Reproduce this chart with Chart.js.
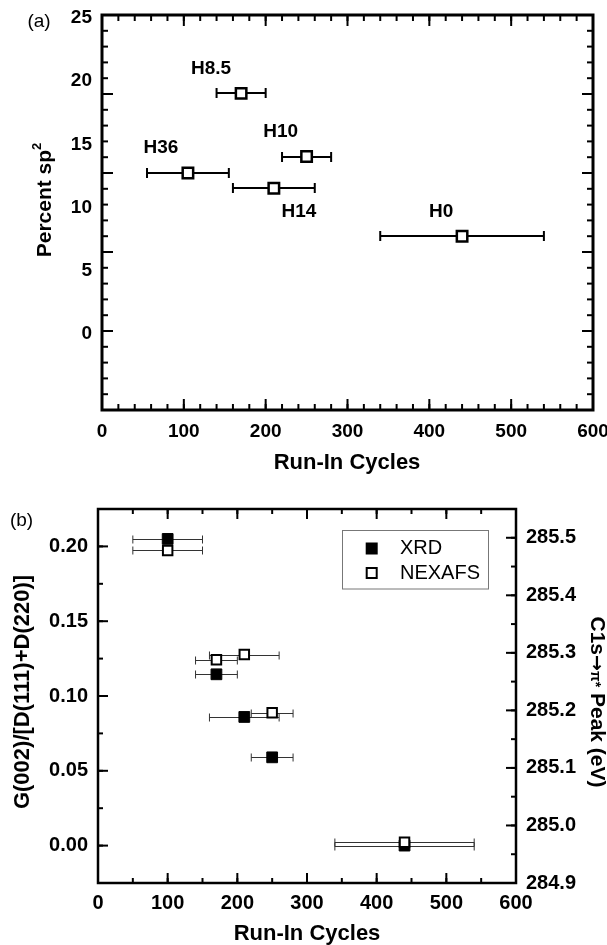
<!DOCTYPE html>
<html>
<head>
<meta charset="utf-8">
<script src="https://cdn.jsdelivr.net/npm/chart.js@4.4.1/dist/chart.umd.min.js"></script>
<style>
    html, body { margin: 0; padding: 0; background: #fff; }
    #wrapA { position: absolute; left: 0; top: 0; }
    #wrapB { position: absolute; left: 0; top: 480px; }
</style>
</head>
<body>
<div id="wrapA"><canvas id="chartA" width="607" height="480"></canvas></div>
<div id="wrapB"><canvas id="chartB" width="607" height="465"></canvas></div>
<script>
// panel (a): percent sp2 vs run-in cycles
const xA = [105, 170, 210, 250, 440];
const yA = [12.5, 18.8, 11.3, 13.8, 7.5];
const errA = [50, 30, 50, 30, 100];
const namesA = ['H36', 'H8.5', 'H14', 'H10', 'H0'];

// panel (b): XRD ratio (left axis) and NEXAFS peak (right axis)
const xB = [100, 170, 210, 250, 440];
const xrdB = [0.205, 0.1145, 0.086, 0.059, 0.000];
const nexafsB = [285.478, 285.288, 285.297, 285.196, 284.971];
const errB = [50, 30, 50, 30, 100];

// tick labels
const xLabels = [0, 100, 200, 300, 400, 500, 600];
const yLabelsA = [0, 5, 10, 15, 20, 25];
const yMajorA = [-6.25, 0, 6.25, 12.5, 18.75, 25];
const yLabelsB = [0, 0.05, 0.10, 0.15, 0.20];
const y2LabelsB = [284.9, 285.0, 285.1, 285.2, 285.3, 285.4, 285.5];

const FONT = '"Liberation Sans", Arial, sans-serif';

// label offsets from their point, in pixels
const nameShift = [[-27, -25], [-30, -25], [25, 24], [-26, -25], [-21, -24]];

function steps(from, to, step) {
    const out = [];
    const n = Math.round((to - from) / step);
    for (let i = 0; i <= n; i++) out.push(+(from + i * step).toFixed(4));
    return out;
}

function partFont(p) {
    return (p.weight || 'bold') + ' ' + p.size + 'px ' + (p.family || FONT);
}

function drawRich(ctx, parts, cx, cy, rot) {
    ctx.save();
    ctx.translate(cx, cy);
    ctx.rotate(rot);
    let w = 0;
    parts.forEach(p => {
        ctx.font = partFont(p);
        p.w = ctx.measureText(p.t).width;
        w += p.w;
    });
    const base = parts[0].size * 0.36;
    let x = -w / 2;
    ctx.fillStyle = '#000';
    ctx.textBaseline = 'alphabetic';
    ctx.textAlign = 'left';
    parts.forEach(p => {
        ctx.font = partFont(p);
        ctx.fillText(p.t, x, base - (p.rise || 0));
        x += p.w;
    });
    ctx.restore();
}

const errorBars = {
    id: 'errorBars',
    beforeDatasetsDraw(chart) {
        const ctx = chart.ctx;
        const xs = chart.scales.x;
        chart.data.datasets.forEach((ds, di) => {
            if (!ds.errX) return;
            const meta = chart.getDatasetMeta(di);
            ctx.save();
            ctx.strokeStyle = ds.errColor;
            ctx.lineWidth = ds.errWidth;
            meta.data.forEach((pt, i) => {
                const v = ds.data[i].x;
                const x0 = xs.getPixelForValue(v - ds.errX[i]);
                const x1 = xs.getPixelForValue(v + ds.errX[i]);
                const y = Math.round(pt.y) + (ds.errWidth % 2 ? 0.5 : 0);
                const c = ds.errCap;
                ctx.beginPath();
                ctx.moveTo(x0, y); ctx.lineTo(x1, y);
                ctx.moveTo(x0, y - c); ctx.lineTo(x0, y + c);
                ctx.moveTo(x1, y - c); ctx.lineTo(x1, y + c);
                ctx.stroke();
            });
            ctx.restore();
        });
    }
};

const frameBox = {
    id: 'frameBox',
    afterDatasetsDraw(chart, args, opts) {
        const {ctx, chartArea: a, scales} = chart;
        ctx.save();
        ctx.strokeStyle = '#000';
        ctx.lineWidth = opts.tickWidth;
        const mark = (side, spec) => {
            const scale = scales[spec.scale];
            const draw = (values, len) => values.forEach(v => {
                const p = scale.getPixelForValue(v);
                ctx.beginPath();
                if (side === 'bottom') { ctx.moveTo(p, a.bottom); ctx.lineTo(p, a.bottom - len); }
                if (side === 'top') { ctx.moveTo(p, a.top); ctx.lineTo(p, a.top + len); }
                if (side === 'left') { ctx.moveTo(a.left, p); ctx.lineTo(a.left + len, p); }
                if (side === 'right') { ctx.moveTo(a.right, p); ctx.lineTo(a.right - len, p); }
                ctx.stroke();
            });
            draw(spec.minor, opts.minor);
            draw(spec.major, opts.major);
        };
        Object.keys(opts.sides).forEach(side => mark(side, opts.sides[side]));
        ctx.lineWidth = opts.frame;
        ctx.strokeRect(a.left, a.top, a.right - a.left, a.bottom - a.top);
        ctx.restore();

        (opts.titles || []).forEach(t => drawRich(ctx, t.parts, t.x, t.y, t.rot || 0));

        if (opts.names) {
            const meta = chart.getDatasetMeta(0);
            ctx.save();
            ctx.fillStyle = '#000';
            ctx.font = 'bold 19px ' + FONT;
            ctx.textAlign = 'center';
            ctx.textBaseline = 'middle';
            meta.data.forEach((pt, i) => {
                ctx.fillText(opts.names[i], pt.x + opts.shifts[i][0], pt.y + opts.shifts[i][1]);
            });
            ctx.restore();
        }

        if (opts.legend) {
            const L = opts.legend;
            ctx.save();
            ctx.strokeStyle = '#777';
            ctx.lineWidth = 1;
            ctx.strokeRect(L.x + 0.5, L.y + 0.5, L.w, L.h);
            ctx.font = '20px ' + FONT;
            ctx.textBaseline = 'middle';
            ctx.textAlign = 'left';
            chart.data.datasets.slice().sort((p, q) => p.legendRank - q.legendRank).forEach((ds, i) => {
                const cy = L.y + L.first + i * L.gap;
                if (ds.pointBackgroundColor === '#000') {
                    ctx.fillStyle = '#000';
                    ctx.fillRect(L.mx - 6, cy - 6, 12, 12);
                } else {
                    ctx.fillStyle = '#fff';
                    ctx.lineWidth = 2;
                    ctx.strokeStyle = '#000';
                    ctx.fillRect(L.mx - 5, cy - 5, 10, 10);
                    ctx.strokeRect(L.mx - 5, cy - 5, 10, 10);
                }
                ctx.fillStyle = '#000';
                ctx.fillText(ds.label, L.tx, cy);
            });
            ctx.restore();
        }
    }
};

function tickFont(size) {
    return {family: FONT, size: size, weight: 'bold'};
}

function fixedTicks(values) {
    return scale => { scale.ticks = values.map(v => ({value: v})); };
}

// ---------- panel (a) ----------
new Chart('chartA', {
    type: 'scatter',
    data: {
        datasets: [{
            label: 'sp2',
            data: xA.map((x, i) => ({x: x, y: yA[i]})),
            errX: errA,
            errColor: '#000',
            errWidth: 2,
            errCap: 5,
            pointStyle: 'rect',
            pointRadius: 7.4,
            pointHoverRadius: 7.4,
            pointBackgroundColor: '#fff',
            pointBorderColor: '#000',
            pointBorderWidth: 2.5
        }]
    },
    options: {
        responsive: false,
        animation: false,
        layout: {autoPadding: false, padding: {left: 0, right: 14, top: 15, bottom: 0}},
        plugins: {
            legend: {display: false},
            tooltip: {enabled: false},
            frameBox: {
                frame: 3, tickWidth: 2, major: 11, minor: 6,
                sides: {
                    bottom: {scale: 'x', major: xLabels, minor: steps(0, 600, 20)},
                    top: {scale: 'x', major: xLabels, minor: steps(0, 600, 20)},
                    left: {scale: 'y', major: yMajorA, minor: steps(-6.25, 25, 1.25)},
                    right: {scale: 'y', major: yMajorA, minor: steps(-6.25, 25, 1.25)}
                },
                titles: [
                    {parts: [{t: 'Run-In Cycles', size: 22}], x: 347, y: 461},
                    {parts: [{t: 'Percent sp', size: 21}, {t: '2', size: 13, rise: 10}], x: 43, y: 200, rot: -Math.PI / 2},
                    {parts: [{t: '(a)', size: 19, weight: 'normal'}], x: 39, y: 20}
                ],
                names: namesA,
                shifts: nameShift
            }
        },
        scales: {
            x: {
                type: 'linear', min: 0, max: 600,
                afterBuildTicks: fixedTicks(xLabels),
                ticks: {font: tickFont(19), color: '#000', padding: 10, maxRotation: 0, autoSkip: false},
                grid: {display: false, drawTicks: false},
                border: {display: false},
                afterFit: s => { s.height = 70; s.paddingLeft = 0; s.paddingRight = 0; }
            },
            y: {
                type: 'linear', min: -6.25, max: 25,
                afterBuildTicks: fixedTicks(yLabelsA),
                ticks: {font: tickFont(19), color: '#000', padding: 10, labelOffset: 3, autoSkip: false},
                grid: {display: false, drawTicks: false},
                border: {display: false},
                afterFit: s => { s.width = 102; s.paddingTop = 0; s.paddingBottom = 0; }
            }
        }
    },
    plugins: [errorBars, frameBox]
});

// ---------- panel (b) ----------
new Chart('chartB', {
    type: 'scatter',
    data: {
        datasets: [{
            label: 'NEXAFS',
            legendRank: 1,
            order: 0,
            yAxisID: 'y2',
            data: xB.map((x, i) => ({x: x, y: nexafsB[i]})),
            errX: errB,
            errColor: '#333',
            errWidth: 1,
            errCap: 4,
            pointStyle: 'rect',
            pointRadius: 6.7,
            pointHoverRadius: 6.7,
            pointBackgroundColor: '#fff',
            pointBorderColor: '#000',
            pointBorderWidth: 2
        }, {
            label: 'XRD',
            legendRank: 0,
            order: 1,
            yAxisID: 'y',
            data: xB.map((x, i) => ({x: x, y: xrdB[i]})),
            errX: errB,
            errColor: '#333',
            errWidth: 1,
            errCap: 4,
            pointStyle: 'rect',
            pointRadius: 7.6,
            pointHoverRadius: 7.6,
            pointBackgroundColor: '#000',
            pointBorderColor: '#000',
            pointBorderWidth: 1
        }]
    },
    options: {
        responsive: false,
        animation: false,
        layout: {autoPadding: false, padding: {left: 0, right: 0, top: 29, bottom: 0}},
        plugins: {
            legend: {display: false},
            tooltip: {enabled: false},
            frameBox: {
                frame: 2.5, tickWidth: 2, major: 10, minor: 5,
                sides: {
                    bottom: {scale: 'x', major: xLabels, minor: steps(0, 600, 50)},
                    top: {scale: 'x', major: xLabels, minor: steps(0, 600, 50)},
                    left: {scale: 'y', major: yLabelsB, minor: steps(-0.025, 0.225, 0.025)},
                    right: {scale: 'y2', major: y2LabelsB, minor: steps(284.9, 285.55, 0.05)}
                },
                titles: [
                    {parts: [{t: 'Run-In Cycles', size: 22}], x: 307, y: 452.5},
                    {parts: [{t: 'G(002)/[D(111)+D(220)]', size: 22}], x: 21.5, y: 212, rot: -Math.PI / 2},
                    {parts: [
                        {t: 'C1s', size: 21},
                        {t: '\u2192', size: 19, family: '"DejaVu Sans", sans-serif'},
                        {t: '\u03c0*', size: 14},
                        {t: ' Peak (eV)', size: 21}
                    ], x: 599, y: 222, rot: Math.PI / 2},
                    {parts: [{t: '(b)', size: 19, weight: 'normal'}], x: 21.5, y: 39}
                ],
                legend: {x: 342, y: 50, w: 146, h: 58.5, first: 18.5, gap: 24.5, mx: 371.7, tx: 400}
            }
        },
        scales: {
            x: {
                type: 'linear', min: 0, max: 600,
                afterBuildTicks: fixedTicks(xLabels),
                ticks: {font: tickFont(20), color: '#000', padding: 8, maxRotation: 0, autoSkip: false},
                grid: {display: false, drawTicks: false},
                border: {display: false},
                afterFit: s => { s.height = 62; s.paddingLeft = 0; s.paddingRight = 0; }
            },
            y: {
                type: 'linear', position: 'left', min: -0.025, max: 0.225,
                afterBuildTicks: fixedTicks(yLabelsB),
                ticks: {font: tickFont(20), color: '#000', padding: 10, autoSkip: false, callback: v => v.toFixed(2)},
                grid: {display: false, drawTicks: false},
                border: {display: false},
                afterFit: s => { s.width = 98; s.paddingTop = 0; s.paddingBottom = 0; }
            },
            y2: {
                type: 'linear', position: 'right', min: 284.9, max: 285.55,
                afterBuildTicks: fixedTicks(y2LabelsB),
                ticks: {font: tickFont(20), color: '#000', padding: 10, autoSkip: false, callback: v => v.toFixed(1)},
                grid: {display: false, drawTicks: false},
                border: {display: false},
                afterFit: s => { s.width = 91; s.paddingTop = 0; s.paddingBottom = 0; }
            }
        }
    },
    plugins: [errorBars, frameBox]
});
</script>
</body>
</html>
